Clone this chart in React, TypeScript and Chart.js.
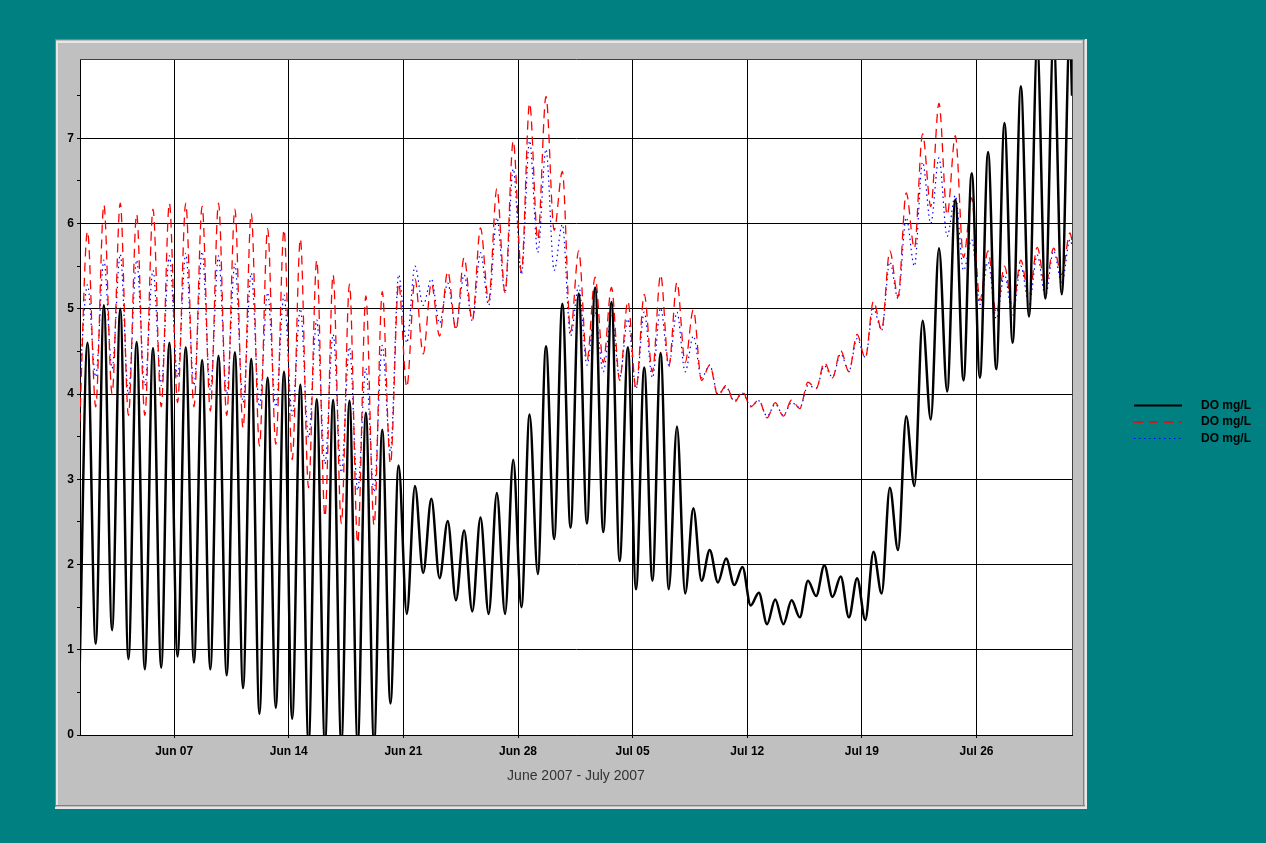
import React, { useEffect, useRef } from "react";
import { Chart, registerables } from "chart.js";

Chart.register(...registerables);

// x values are days since 2007-06-01 00:00
const axisStartDay = 0.25; // Jun 1 06:00
const axisEndDay = 60.833; // Jul 31 20:00
const tickDays = [6, 13, 20, 27, 34, 41, 48, 55];
const tickLabels = ["Jun 07", "Jun 14", "Jun 21", "Jun 28", "Jul 05", "Jul 12", "Jul 19", "Jul 26"];
const xAxisTitle = "June 2007 - July 2007";
const seriesLabels = ["DO mg/L", "DO mg/L", "DO mg/L"];
const troughHour = 5;
const peakHour = 17;

// daily minima / maxima, Jun 1 ... Jul 31
const blackTrough = [
  0.6, 1.07, 1.23, 0.89, 0.77, 0.79, 0.92, 0.85, 0.77, 0.7,
  0.55, 0.25, 0.32, 0.19, -0.1, -0.1, -0.1, -0.1, -0.1, 0.37,
  1.42, 1.9, 1.84, 1.58, 1.45, 1.42, 1.42, 1.5, 1.89, 2.3,
  2.43, 2.48, 2.38, 2.04, 1.71, 1.81, 1.71, 1.66, 1.81, 1.79,
  1.76, 1.52, 1.3, 1.3, 1.38, 1.63, 1.62, 1.38, 1.35, 1.66,
  2.17, 2.92, 3.7, 4.03, 4.16, 4.19, 4.29, 4.6, 4.91, 5.12,
  5.17,
];
const blackPeak = [
  4.6, 5.04, 5.0, 4.61, 4.54, 4.6, 4.55, 4.4, 4.45, 4.49,
  4.41, 4.19, 4.26, 4.11, 3.94, 3.93, 3.92, 3.78, 3.58, 3.16,
  2.92, 2.77, 2.51, 2.4, 2.55, 2.84, 3.23, 3.76, 4.56, 5.06,
  5.18, 5.25, 5.08, 4.55, 4.31, 4.48, 3.62, 2.66, 2.17, 2.07,
  1.97, 1.67, 1.59, 1.58, 1.81, 1.99, 1.86, 1.84, 2.15, 2.9,
  3.74, 4.86, 5.71, 6.28, 6.59, 6.84, 7.18, 7.61, 8.1, 8.2,
  8.3,
];
const blackEnd = 7.5;

const redTrough = [
  3.5, 3.85, 4.0, 3.75, 3.75, 3.85, 3.9, 3.85, 3.8, 3.75,
  3.6, 3.39, 3.41, 3.23, 2.9, 2.56, 2.48, 2.25, 2.46, 3.18,
  4.08, 4.47, 4.68, 4.75, 4.86, 5.09, 5.19, 5.43, 5.81, 5.92,
  4.73, 4.39, 4.37, 4.16, 4.06, 4.26, 4.32, 4.37, 4.16, 3.98,
  3.9, 3.85, 3.72, 3.74, 3.83, 4.06, 4.19, 4.26, 4.42, 4.75,
  5.14, 5.71, 6.2, 6.1, 5.6, 5.1, 4.94, 5.0, 5.14, 5.27,
  5.4,
];
const redPeak = [
  5.91, 6.22, 6.24, 6.11, 6.17, 6.24, 6.24, 6.2, 6.24, 6.17,
  6.12, 5.94, 5.93, 5.82, 5.57, 5.4, 5.29, 5.15, 5.2, 5.3,
  5.35, 5.3, 5.44, 5.6, 5.95, 6.41, 6.97, 7.41, 7.49, 6.61,
  5.68, 5.37, 5.25, 5.09, 5.17, 5.4, 5.31, 4.99, 4.34, 4.1,
  4.03, 3.93, 3.9, 3.93, 4.14, 4.37, 4.51, 4.7, 5.09, 5.68,
  6.36, 7.05, 7.41, 7.03, 6.3, 5.68, 5.5, 5.57, 5.72, 5.71,
  5.89,
];
const redEnd = 5.8;

const blueTrough = [
  4.1, 4.2, 4.3, 4.0, 4.1, 4.1, 4.2, 4.1, 4.05, 4.0,
  3.9, 3.85, 3.85, 3.75, 3.49, 3.18, 3.08, 2.87, 2.85, 3.33,
  4.6, 5.04, 4.83, 4.78, 4.86, 5.04, 5.19, 5.4, 5.66, 5.45,
  4.68, 4.34, 4.26, 4.19, 4.06, 4.19, 4.34, 4.26, 4.19, 4.0,
  3.92, 3.86, 3.74, 3.75, 3.84, 4.07, 4.2, 4.27, 4.43, 4.75,
  5.12, 5.5, 6.0, 5.85, 5.45, 5.05, 4.88, 4.92, 5.05, 5.15,
  5.3,
];
const bluePeak = [
  5.28, 5.57, 5.64, 5.57, 5.45, 5.62, 5.65, 5.67, 5.62, 5.53,
  5.42, 5.19, 5.16, 5.0, 4.87, 4.7, 4.55, 4.3, 4.57, 5.4,
  5.5, 5.35, 5.3, 5.4, 5.66, 6.07, 6.64, 6.97, 6.87, 5.99,
  5.27, 4.96, 4.94, 4.88, 4.96, 5.01, 4.96, 4.68, 4.34, 4.08,
  4.01, 3.92, 3.88, 3.9, 4.1, 4.33, 4.47, 4.65, 5.0, 5.55,
  6.07, 6.72, 6.77, 6.33, 5.81, 5.55, 5.4, 5.5, 5.63, 5.68,
  5.81,
];
const blueEnd = 5.75;

const FONT = '"Liberation Sans", Arial, sans-serif';

function buildSeries(troughs: number[], peaks: number[], endValue: number) {
  const pts: { x: number; y: number }[] = [];
  for (let i = 0; i < troughs.length; i++) {
    pts.push({ x: i + troughHour / 24, y: troughs[i] });
    pts.push({ x: i + peakHour / 24, y: peaks[i] });
  }
  pts.push({ x: axisEndDay, y: endValue });
  return pts;
}

const backgroundPlugin = {
  id: "panelBackground",
  beforeDraw(chart: any) {
    const { ctx, chartArea, width, height } = chart;
    ctx.save();
    ctx.fillStyle = "#008080";
    ctx.fillRect(0, 0, width, height);
    // gray panel
    ctx.fillStyle = "#C0C0C0";
    ctx.fillRect(55, 39, 1032, 770);
    ctx.fillStyle = "#808080";
    ctx.fillRect(55, 39, 1032, 1);
    ctx.fillRect(55, 39, 1, 770);
    ctx.fillRect(55, 805, 1030, 1);
    ctx.fillRect(1083, 39, 1, 767);
    ctx.fillStyle = "#E6E6E6";
    ctx.fillRect(56, 41, 1026, 2);
    ctx.fillRect(56, 41, 2, 764);
    ctx.fillRect(55, 807, 1032, 2);
    ctx.fillRect(1085, 39, 2, 770);
    // plot area
    ctx.fillStyle = "#FFFFFF";
    ctx.fillRect(chartArea.left, chartArea.top, chartArea.right - chartArea.left, chartArea.bottom - chartArea.top);
    ctx.restore();
  },
  afterDraw(chart: any) {
    const { ctx, chartArea } = chart;
    ctx.save();
    ctx.strokeStyle = "#404040";
    ctx.lineWidth = 1;
    ctx.beginPath();
    ctx.moveTo(chartArea.left, chartArea.top + 0.5);
    ctx.lineTo(chartArea.right + 0.5, chartArea.top + 0.5);
    ctx.lineTo(chartArea.right + 0.5, chartArea.bottom);
    ctx.stroke();
    ctx.restore();
  },
};

const sideLegendPlugin = {
  id: "sideLegend",
  afterDraw(chart: any) {
    const { ctx } = chart;
    const rowY = [405.5, 422, 438.5];
    chart.data.datasets.forEach((ds: any, i: number) => {
      const y = rowY[i];
      ctx.save();
      ctx.strokeStyle = ds.borderColor;
      ctx.lineWidth = Math.min(ds.borderWidth, 2);
      ctx.setLineDash(ds.borderDash || []);
      ctx.beginPath();
      ctx.moveTo(1134, y);
      ctx.lineTo(1182, y);
      ctx.stroke();
      ctx.setLineDash([]);
      ctx.fillStyle = "#000";
      ctx.font = `bold 12px ${FONT}`;
      ctx.textAlign = "right";
      ctx.textBaseline = "middle";
      ctx.fillText(ds.label, 1251, y);
      ctx.restore();
    });
  },
};

export default function App() {
  const canvasRef = useRef<HTMLCanvasElement | null>(null);

  useEffect(() => {
    document.body.style.margin = "0";
    document.body.style.overflow = "hidden";
    const canvas = canvasRef.current;
    if (!canvas) return;

    const chart = new Chart(canvas, {
      type: "line",
      data: {
        datasets: [
          {
            label: seriesLabels[0],
            data: buildSeries(blackTrough, blackPeak, blackEnd),
            borderColor: "#000000",
            borderWidth: 2.5,
            pointRadius: 0,
            cubicInterpolationMode: "monotone",
            fill: false,
          },
          {
            label: seriesLabels[1],
            data: buildSeries(redTrough, redPeak, redEnd),
            borderColor: "#FF0000",
            borderWidth: 1.3,
            borderDash: [9, 6],
            pointRadius: 0,
            cubicInterpolationMode: "monotone",
            fill: false,
          },
          {
            label: seriesLabels[2],
            data: buildSeries(blueTrough, bluePeak, blueEnd),
            borderColor: "#0000FF",
            borderWidth: 1.2,
            borderDash: [1.5, 3.5],
            pointRadius: 0,
            cubicInterpolationMode: "monotone",
            fill: false,
          },
        ],
      },
      options: {
        responsive: false,
        animation: false,
        devicePixelRatio: 1,
        layout: { padding: { left: 50, right: 194, top: 59, bottom: 58 } },
        plugins: {
          legend: { display: false },
          tooltip: { enabled: false },
          title: { display: false },
        },
        scales: {
          x: {
            type: "linear",
            min: axisStartDay,
            max: axisEndDay,
            afterBuildTicks: (scale: any) => {
              scale.ticks = tickDays.map((v) => ({ value: v }));
            },
            afterFit: (scale: any) => {
              scale.height = 50;
            },
            ticks: {
              autoSkip: false,
              maxRotation: 0,
              padding: 6,
              color: "#000",
              font: { family: FONT, size: 12, weight: "bold" },
              callback: (value: any) => {
                const idx = tickDays.indexOf(Number(value));
                return idx >= 0 ? tickLabels[idx] : "";
              },
            },
            grid: {
              color: "#000",
              lineWidth: 1,
              tickLength: 3,
              tickColor: "#000",
            },
            border: { color: "#000", width: 1 },
            title: {
              display: true,
              text: xAxisTitle,
              color: "#333",
              font: { family: FONT, size: 14 },
              padding: { top: 0, bottom: 0 },
            },
          },
          y: {
            type: "linear",
            min: 0,
            max: 7.93,
            afterFit: (scale: any) => {
              scale.width = 30;
            },
            ticks: {
              stepSize: 0.5,
              includeBounds: false,
              padding: 3,
              color: "#000",
              font: { family: FONT, size: 12, weight: "bold" },
              callback: (value: any) => (Number(value) % 1 === 0 ? String(value) : ""),
            },
            grid: {
              color: (ctx: any) =>
                ctx.tick && Number(ctx.tick.value) % 1 === 0 ? "#000" : "rgba(0,0,0,0)",
              lineWidth: 1,
              tickLength: 3,
              tickColor: "#000",
            },
            border: { color: "#000", width: 1 },
          },
        },
      },
      plugins: [backgroundPlugin, sideLegendPlugin],
    } as any);

    return () => {
      chart.destroy();
    };
  }, []);

  return (
    <div style={{ width: 1266, height: 843, position: "relative" }}>
      <canvas ref={canvasRef} width={1266} height={843} style={{ display: "block", width: 1266, height: 843 }} />
    </div>
  );
}
